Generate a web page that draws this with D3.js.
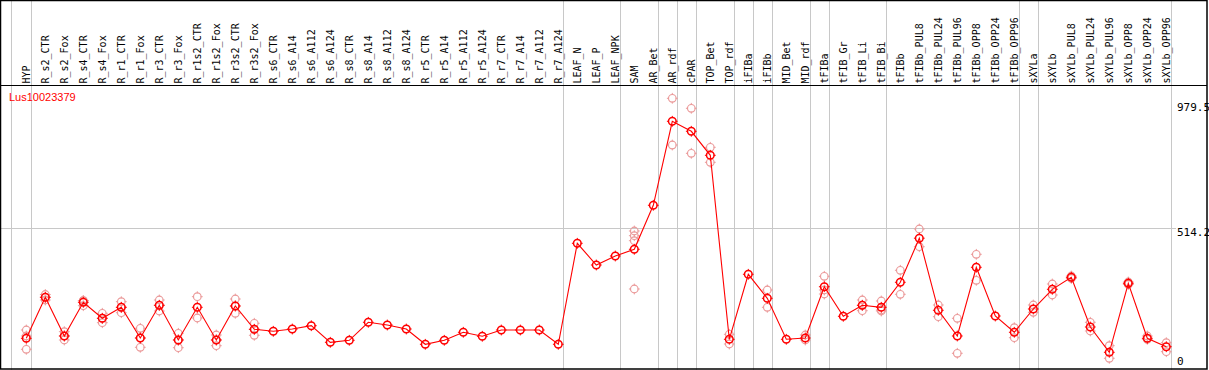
<!DOCTYPE html>
<html>
<head>
<meta charset="utf-8">
<script src="https://cdn.jsdelivr.net/npm/d3@7"></script>
<style>
  body { margin: 0; background: #fff; }
  svg { display: block; }
  .collabel { font-family: "DejaVu Sans Mono", monospace; font-size: 10px; fill: #000; }
  .ylabel { font-family: "DejaVu Sans Mono", monospace; font-size: 11px; fill: #000; }
</style>
</head>
<body>
<svg id="chart_svg"></svg>
<script>
// Chart values
var geneId = "Lus10023379";

var samples = ["HYP", "R_s2_CTR", "R_s2_Fox", "R_s4_CTR", "R_s4_Fox", "R_r1_CTR", "R_r1_Fox",
    "R_r3_CTR", "R_r3_Fox", "R_r1s2_CTR", "R_r1s2_Fox", "R_r3s2_CTR", "R_r3s2_Fox",
    "R_s6_CTR", "R_s6_A14", "R_s6_A112", "R_s6_A124", "R_s8_CTR", "R_s8_A14", "R_s8_A112", "R_s8_A124",
    "R_r5_CTR", "R_r5_A14", "R_r5_A112", "R_r5_A124", "R_r7_CTR", "R_r7_A14", "R_r7_A112", "R_r7_A124",
    "LEAF_N", "LEAF_P", "LEAF_NPK", "SAM", "AR_Bet", "AR_rdf", "cPAR", "TOP_Bet", "TOP_rdf",
    "iFIBa", "iFIBb", "MID_Bet", "MID_rdf", "tFIBa", "tFIB_Gr", "tFIB_Li", "tFIB_Bi", "tFIBb",
    "tFIBb_PUL8", "tFIBb_PUL24", "tFIBb_PUL96", "tFIBb_OPP8", "tFIBb_OPP24", "tFIBb_OPP96",
    "sXYLa", "sXYLb", "sXYLb_PUL8", "sXYLb_PUL24", "sXYLb_PUL96", "sXYLb_OPP8", "sXYLb_OPP24", "sXYLb_OPP96"];

var means = [104.6, 257.3, 113.2, 238.6, 179.1, 220.0, 105.7, 227.5, 98.3, 220.0, 98.3, 224.9, 138.1,
    130.7, 139.2, 151.5, 89.7, 97.2, 164.2, 154.1, 139.2,
    82.3, 97.2, 127.0, 112.1, 135.5, 135.5, 135.5, 82.3,
    458.3, 377.5, 411.0, 436.0, 599.8, 912.5, 875.3, 785.9, 100.9,
    342.9, 253.5, 100.9, 105.7, 296.7, 186.5, 227.5, 220.0, 313.1,
    477.3, 208.9, 113.2, 368.9, 187.6, 127.0,
    213.7, 287.0, 331.7, 146.7, 52.5, 309.4, 104.6, 73.3];

// replicate values per sample (empty where only the mean is visible)
var replicates = [
    [135.5, 113.2, 63.7], [267.7, 257.3, 247.2], [129.2, 113.2, 98.3], [244.6, 245.0, 226.0],
    [197.7, 179.1, 162.7], [240.9, 220.0, 199.9], [141.8, 105.7, 71.1], [247.2, 227.5, 206.2],
    [123.2, 98.3, 69.6], [259.5, 180.2], [116.9, 98.3, 77.1], [250.9, 224.9, 197.7], [160.5, 138.1, 115.8],
    [], [], [], [], [], [], [], [],
    [], [], [], [], [], [], [], [],
    [], [], [], [504.1, 486.6, 468.0, 288.2], [], [998.1, 824.2], [960.9, 793.3], [815.7, 759.8], [119.5, 83.4],
    [], [284.4, 220.0], [], [116.9, 98.3], [335.4, 284.4, 269.5], [], [247.2, 227.5, 207.4], [243.5, 210.0, 206.2], [357.8, 268.4],
    [511.5, 445.6], [228.6, 185.0], [179.1, 48.8], [417.3, 320.5], [], [144.1, 106.8],
    [228.6, 201.4], [306.8, 265.8], [336.5, 327.2], [164.2, 131.8], [77.1, 30.2], [314.2, 304.9], [113.2, 100.9], [88.2, 54.7]
];

// index of the last sample in each group (a grey divider follows it)
var groupEnds = [0, 28, 31, 33, 34, 35, 37, 38, 39, 41, 42, 45, 52, 53, 60];

var yTicks = [979.5, 514.2, 0];
var yGridTicks = [514.2];

// Dimensions
var dims = {
    width: 1209,
    height: 370,
    headerBottom: 85,
    plotLeft: 10.5,
    plotRight: 1170,
    firstX: 26.3,
    lastX: 1166.3
};

var svg = d3.select('#chart_svg')
    .attr('width', dims.width)
    .attr('height', dims.height);

var x = d3.scaleLinear()
    .domain([0, samples.length - 1])
    .range([dims.firstX, dims.lastX]);

var y = d3.scaleLinear()
    .domain([0, 979.5])
    .range([366.4, 103.3]);

// Grey vertical dividers
var dividerX = [dims.plotLeft].concat(groupEnds.map(function(i) { return x(i) + 4.4; }));
svg.append('g').selectAll('line')
    .data(dividerX)
    .enter()
    .append('line')
    .attr('x1', function(d) { return Math.round(d) + 0.5; })
    .attr('x2', function(d) { return Math.round(d) + 0.5; })
    .attr('y1', 0)
    .attr('y2', dims.height)
    .attr('stroke', '#c8c8c8')
    .attr('stroke-width', 1);

// Horizontal grid line
svg.append('g').selectAll('line')
    .data(yGridTicks)
    .enter()
    .append('line')
    .attr('x1', 1)
    .attr('x2', dims.plotRight + 6)
    .attr('y1', function(d) { return Math.round(y(d)) + 0.5; })
    .attr('y2', function(d) { return Math.round(y(d)) + 0.5; })
    .attr('stroke', '#c8c8c8')
    .attr('stroke-width', 1);

// Column labels (rotated)
svg.append('g').selectAll('text')
    .data(samples)
    .enter()
    .append('text')
    .attr('class', 'collabel')
    .attr('transform', function(d, i) {
        return 'translate(' + (x(i) + 3.5) + ',' + 83.5 + ') rotate(-90)';
    })
    .text(function(d) { return d; });

// Frame and header separator
svg.append('rect')
    .attr('x', 0.5).attr('y', 0.5)
    .attr('width', dims.width - 2.5).attr('height', dims.height - 1.5)
    .attr('fill', 'none')
    .attr('stroke', '#000')
    .attr('stroke-width', 1.5);
svg.append('line')
    .attr('x1', 0).attr('x2', dims.width - 2)
    .attr('y1', dims.headerBottom + 0.5).attr('y2', dims.headerBottom + 0.5)
    .attr('stroke', '#000')
    .attr('stroke-width', 1.2);

// Y labels on the right
svg.append('g').selectAll('text')
    .data(yTicks)
    .enter()
    .append('text')
    .attr('class', 'ylabel')
    .attr('x', 1177)
    .attr('y', function(d) { return Math.min(y(d) + 8, 365); })
    .text(function(d) { return d; });

// Gene title
svg.append('text')
    .attr('x', 9)
    .attr('y', 101)
    .attr('fill', '#ff0000')
    .style('font-family', '"Liberation Sans", Arial, sans-serif')
    .style('font-size', '11px')
    .text(geneId);

// marker helper: circle with four small ticks
function drawMarker(g, cx, cy, color, width) {
    var r = 3.8;
    g.append('circle')
        .attr('cx', cx).attr('cy', cy).attr('r', r)
        .attr('fill', 'none')
        .attr('stroke', color)
        .attr('stroke-width', width);
    var t = [[0, -1], [0, 1], [-1, 0], [1, 0]];
    t.forEach(function(d) {
        g.append('line')
            .attr('x1', cx + d[0] * (r - 0.5)).attr('y1', cy + d[1] * (r - 0.5))
            .attr('x2', cx + d[0] * (r + 1.6)).attr('y2', cy + d[1] * (r + 1.6))
            .attr('stroke', color)
            .attr('stroke-width', 1);
    });
}

// Replicate points
var reps = svg.append('g').attr('id', 'replicates');
replicates.forEach(function(list, i) {
    list.forEach(function(v) {
        drawMarker(reps, x(i), y(v), '#eb9a9a', 1.2);
    });
});

// Mean line
var line = d3.line()
    .x(function(d, i) { return x(i); })
    .y(function(d) { return y(d); });
svg.append('path')
    .datum(means)
    .attr('d', line)
    .attr('fill', 'none')
    .attr('stroke', '#ff0000')
    .attr('stroke-width', 1.1);

var meanG = svg.append('g').attr('id', 'means');
means.forEach(function(v, i) {
    drawMarker(meanG, x(i), y(v), '#ff0000', 1.5);
});
</script>
</body>
</html>
